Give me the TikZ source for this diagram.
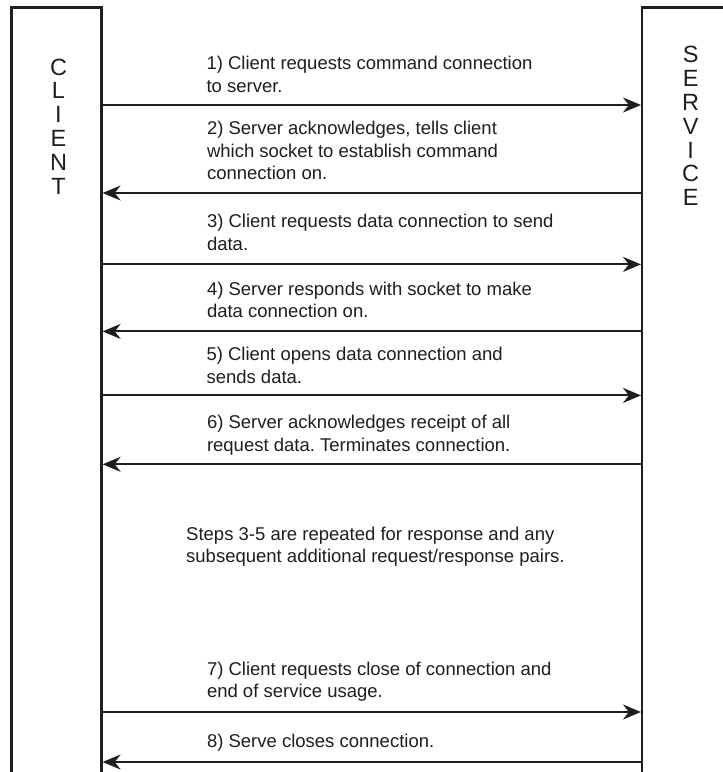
\documentclass[tikz,border=0pt]{standalone}
\usepackage{fontspec}
\setmainfont{Liberation Sans}
\usetikzlibrary{arrows.meta}
\definecolor{ink}{HTML}{1E1E1E}
\frenchspacing
\begin{document}
\begin{tikzpicture}[x=1pt,y=-1pt,
  lifeline/.style={draw=ink, line width=2.2pt},
  msg/.style={draw=ink, line width=2pt, -{Stealth[length=18pt,width=15pt]}},
  steptext/.style={anchor=base west, inner sep=0pt, align=left, text=ink,
    font=\fontsize{18.5}{22.4}\selectfont},
  side/.style={anchor=base, inner sep=0pt, align=center, text=ink,
    font=\fontsize{23.5}{23.9}\selectfont}]
\useasboundingbox (0,0) rectangle (723,772);
% boxes
\draw[lifeline] (11.5,773) -- (11.5,7.4) -- (101.5,7.4) -- (101.5,773);
\draw[lifeline] (642,773) -- (642,7.4) -- (724,7.4);
% (multi-line nodes are placed by the baseline of their last line)
\node[side] (client) at (58.5,194.5) {C\\L\\I\\E\\N\\T};
\node[side] (service) at (690.6,205.8) {S\\E\\R\\V\\I\\C\\E};
% end points
\foreach \i/\y in {1/105,2/193,3/264.4,4/331.4,5/395.4,6/464.3,7/712,8/762}{
  \coordinate (c\i) at (102.6,\y);
  \coordinate (s\i) at (641,\y);
}
\draw[msg] (c1) -- (s1);
\draw[msg] (s2) -- (c2);
\draw[msg] (c3) -- (s3);
\draw[msg] (s4) -- (c4);
\draw[msg] (c5) -- (s5);
\draw[msg] (s6) -- (c6);
\draw[msg] (c7) -- (s7);
\draw[msg] (s8) -- (c8);
% texts
\node[steptext] (t1) at (206.3,92.2) {1) Client requests command connection\\to server.};
\node[steptext] (t2) at (206.8,179.4) {2) Server acknowledges, tells client\\which socket to establish command\\connection on.};
\node[steptext] (t3) at (206.8,250.2) {3) Client requests data connection to send\\data.};
\node[steptext] (t4) at (206.8,317.8) {4) Server responds with socket to make\\data connection on.};
\node[steptext] (t5) at (206.3,383.2) {5) Client opens data connection and\\sends data.};
\node[steptext] (t6) at (206.8,451.2) {6) Server acknowledges receipt of all\\request data. Terminates connection.};
\node[steptext] (note) at (186,562.6) {Steps 3-5 are repeated for response and any\\subsequent additional request/response pairs.};
\node[steptext] (t7) at (206.8,697.9) {7) Client requests close of connection and\\end of service usage.};
\node[steptext] (t8) at (206.8,747.4) {8) Serve closes connection.};
\end{tikzpicture}
\end{document}
